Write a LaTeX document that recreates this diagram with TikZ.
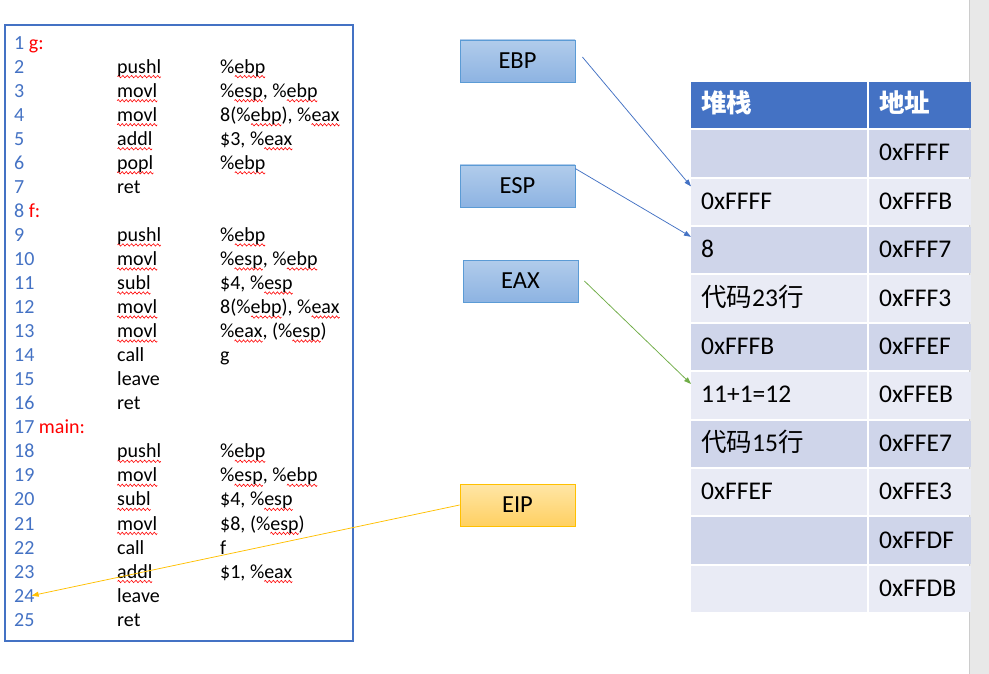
\documentclass[tikz,border=0pt]{standalone}
\usepackage{fontspec}
\setmainfont{Carlito}
\newfontfamily\cjk{Noto Sans CJK SC}
\usetikzlibrary{arrows.meta}
\definecolor{wordblue}{HTML}{4472C4}
\definecolor{wavered}{HTML}{FF0000}
\definecolor{labred}{HTML}{FF0000}
\definecolor{rowdark}{HTML}{CFD5EA}
\definecolor{rowlight}{HTML}{E9EBF5}
\definecolor{regborder}{HTML}{5B9BD5}
\definecolor{regtop}{HTML}{B1CCEB}
\definecolor{regbot}{HTML}{8DB3E2}
\definecolor{eiptop}{HTML}{FFE6A6}
\definecolor{eipbot}{HTML}{FFD062}
\definecolor{eipborder}{HTML}{FFC000}
\definecolor{eaxgreen}{HTML}{70AD47}
\definecolor{bargray}{HTML}{E8E8E8}
\newsavebox\wavebox
\newcommand\wv[1]{\leavevmode\setbox2=\hbox{#1}\rlap{\raisebox{-3.4pt}{\hbox to\wd2{\xleaders\copy\wavebox\hfill}}}\box2}
\newcommand\lab[1]{\textcolor{labred}{#1}}
\newcommand\codeline[4]{%
  \node[numtxt] (n#1) at (14,{49.2+(#1-1)*24.04}) {#2};
  \node[codetxt] (i#1) at (117,{49.2+(#1-1)*24.04}) {#3};
  \node[codetxt] (o#1) at (220,{49.2+(#1-1)*24.04}) {#4};
}
\begin{document}
\sbox\wavebox{\begin{pgfpicture}%
  \pgfpathrectangle{\pgforigin}{\pgfpoint{4pt}{0pt}}%
  \pgfusepath{use as bounding box}%
  \pgfpathmoveto{\pgforigin}%
  \pgfpathsine{\pgfpoint{1pt}{1.2pt}}%
  \pgfpathcosine{\pgfpoint{1pt}{-1.2pt}}%
  \pgfpathsine{\pgfpoint{1pt}{-1.2pt}}%
  \pgfpathcosine{\pgfpoint{1pt}{1.2pt}}%
  \pgfsetlinewidth{0.6pt}%
  \color{wavered}%
  \pgfusepath{stroke}%
\end{pgfpicture}}%
\begin{tikzpicture}[x=1pt,y=-1pt,
  numtxt/.style={anchor=base west, inner sep=0pt, text=wordblue, font=\fontsize{20}{22}\selectfont},
  codetxt/.style={anchor=base west, inner sep=0pt, font=\fontsize{20}{22}\selectfont},
  reg/.style={draw=regborder, line width=0.8pt, top color=regtop, bottom color=regbot,
    minimum width=115pt, minimum height=42pt, inner sep=0pt, font=\fontsize{24.5}{28}\selectfont},
  eipreg/.style={reg, draw=eipborder, top color=eiptop, bottom color=eipbot},
  cell/.style={anchor=north west, inner xsep=10pt, inner ysep=0pt, align=left,
    text height=17pt, text depth=2pt, font=\fontsize{25.5}{28}\selectfont},
  colA/.style={cell, text width=156pt, minimum height=46.4pt},
  colB/.style={cell, text width=82pt, minimum height=46.4pt},
  hdr/.style={fill=wordblue, text=white, minimum height=46pt},
  conn/.style={line width=0.75pt, -{Triangle[length=7pt,width=5pt]}}
]
\useasboundingbox (0,0) rectangle (989,674);
\fill[white] (0,0) rectangle (989,674);
% right gray bar
\fill[bargray] (969,0) rectangle (989,674);
\draw[black!20, line width=0.6pt] (969,0) -- (969,674);

% code box frame
\coordinate (cbnw) at (5,25);
\coordinate (cbse) at (353,641);
\draw[wordblue, line width=1.1pt] (cbnw) rectangle (cbse);

\codeline{1}{1 \lab{g:}}{}{}
\codeline{2}{2}{\wv{pushl}}{\%\wv{ebp}}
\codeline{3}{3}{\wv{movl}}{\%\wv{esp}, \%\wv{ebp}}
\codeline{4}{4}{\wv{movl}}{8(\%\wv{ebp}), \%\wv{eax}}
\codeline{5}{5}{\wv{addl}}{\$3, \%\wv{eax}}
\codeline{6}{6}{\wv{popl}}{\%\wv{ebp}}
\codeline{7}{7}{ret}{}
\codeline{8}{8 \lab{f:}}{}{}
\codeline{9}{9}{\wv{pushl}}{\%\wv{ebp}}
\codeline{10}{10}{\wv{movl}}{\%\wv{esp}, \%\wv{ebp}}
\codeline{11}{11}{\wv{subl}}{\$4, \%\wv{esp}}
\codeline{12}{12}{\wv{movl}}{8(\%\wv{ebp}), \%\wv{eax}}
\codeline{13}{13}{\wv{movl}}{\%\wv{eax}, (\%\wv{esp})}
\codeline{14}{14}{call}{g}
\codeline{15}{15}{leave}{}
\codeline{16}{16}{ret}{}
\codeline{17}{17 \lab{main:}}{}{}
\codeline{18}{18}{\wv{pushl}}{\%\wv{ebp}}
\codeline{19}{19}{\wv{movl}}{\%\wv{esp}, \%\wv{ebp}}
\codeline{20}{20}{\wv{subl}}{\$4, \%\wv{esp}}
\codeline{21}{21}{\wv{movl}}{\$8, (\%\wv{esp})}
\codeline{22}{22}{call}{f}
\codeline{23}{23}{\wv{addl}}{\$1, \%\wv{eax}}
\codeline{24}{24}{leave}{}
\codeline{25}{25}{ret}{}

% registers
\node[reg] (ebp) at (517.5,61) {EBP};
\node[reg] (esp) at (517.5,186) {ESP};
\node[reg] (eax) at (520.5,281) {EAX};
\node[eipreg] (eip) at (517.5,505) {EIP};

% table
\node[colA, hdr] (h1) at (691,82) {{\cjk\bfseries 堆栈}};
\node[colB, hdr] (h2) at (869,82) {{\cjk\bfseries 地址}};
\foreach \i/\c/\a/\b in {
  1/rowdark//0xFFFF,
  2/rowlight/0xFFFF/0xFFFB,
  3/rowdark/8/0xFFF7,
  4/rowlight/{{\cjk 代码}23{\cjk 行}}/0xFFF3,
  5/rowdark/0xFFFB/0xFFEF,
  6/rowlight/11+1=12/0xFFEB,
  7/rowdark/{{\cjk 代码}15{\cjk 行}}/0xFFE7,
  8/rowlight/0xFFEF/0xFFE3,
  9/rowdark//0xFFDF,
  10/rowlight//0xFFDB}{
  \node[colA, fill=\c] (s\i) at (691,{130+(\i-1)*48.4}) {\a};
  \node[colB, fill=\c] (a\i) at (869,{130+(\i-1)*48.4}) {\b};
}

% connectors
\draw[conn, wordblue] ([xshift=7pt,yshift=4pt]ebp.east) -- ([yshift=-8pt]s2.north west);
\draw[conn, wordblue] ([yshift=-4pt]esp.north east) -- ([yshift=-10pt]s3.north west);
\draw[conn, eaxgreen] ([xshift=6pt]eax.east) -- ([yshift=-12pt]s6.north west);
\draw[conn, eipborder] (eip.west) -- ([xshift=-3pt]n24.east);
\end{tikzpicture}
\end{document}
